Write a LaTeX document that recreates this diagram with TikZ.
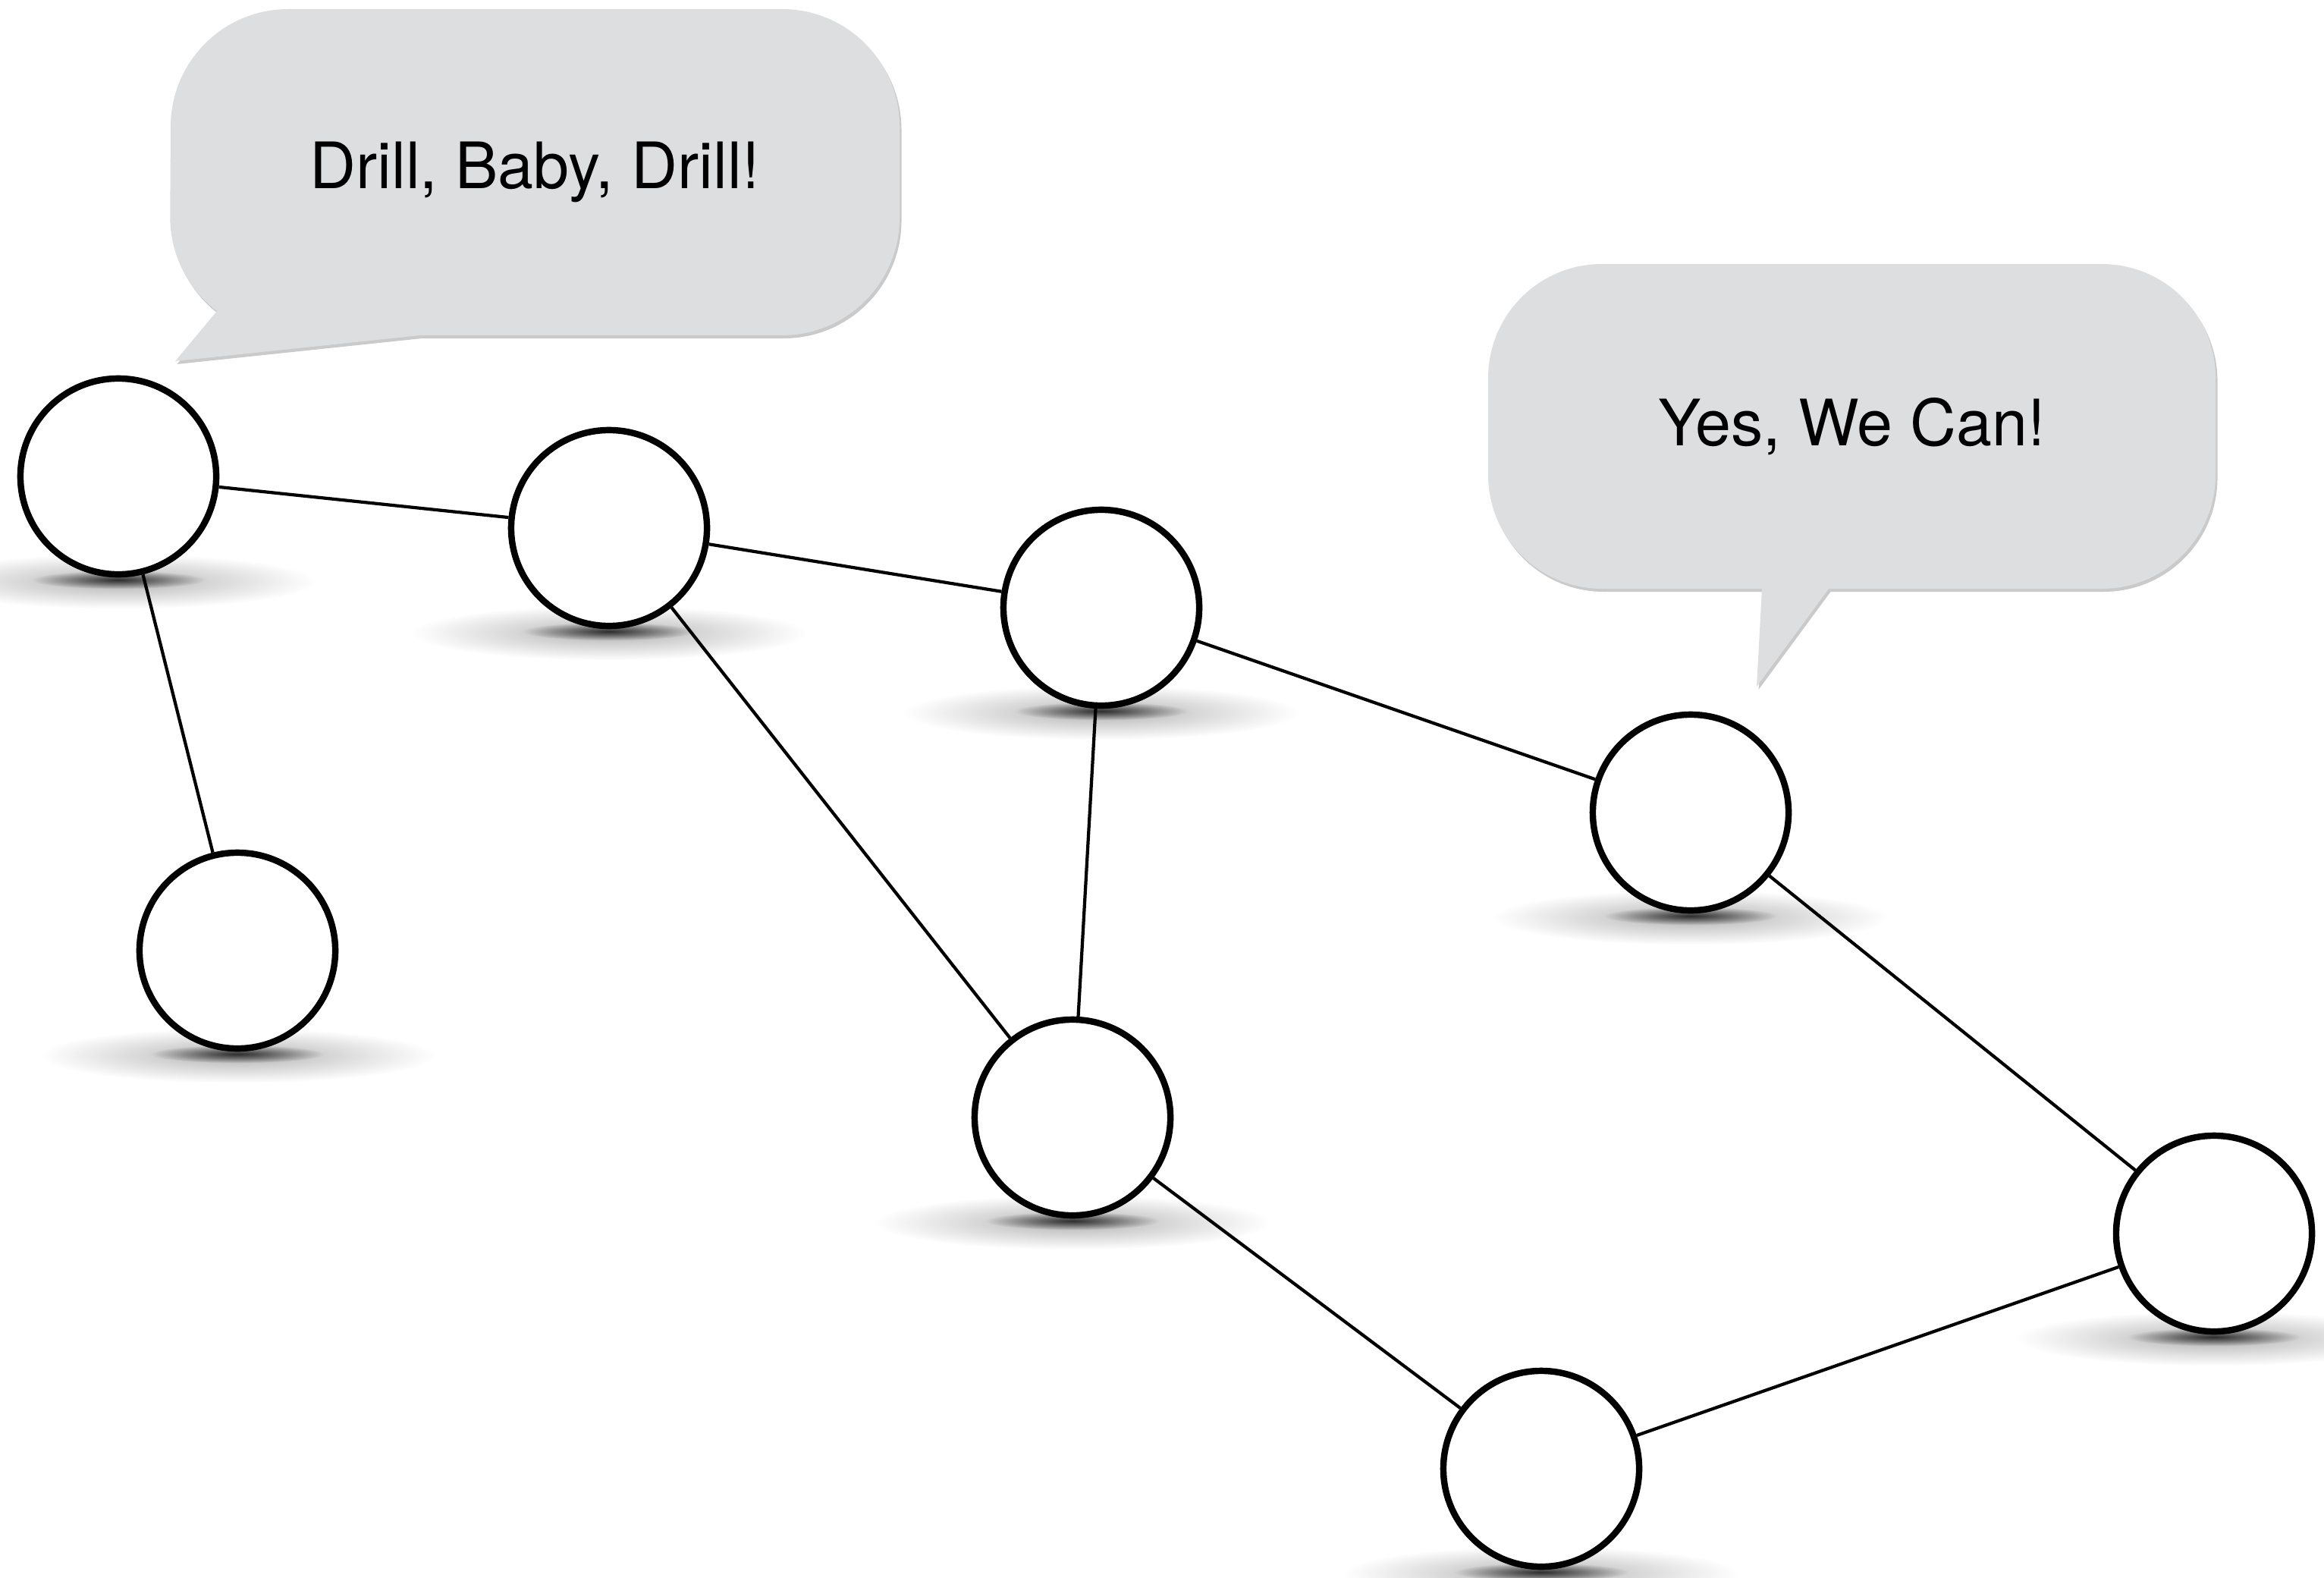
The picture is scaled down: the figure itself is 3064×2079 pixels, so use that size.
\documentclass[tikz,border=0pt]{standalone}
\usepackage{fontspec}
\setmainfont{TeX Gyre Heros}
\usetikzlibrary{fadings,shadows,backgrounds}
\definecolor{bubblegray}{RGB}{221,222,224}
\tikzfading[name=softshade, inner color=transparent!0, outer color=transparent!100]

\begin{document}
\begin{tikzpicture}[x=0.01cm, y=-0.01cm,
    vertex/.style={draw=black, circle, line width=2.4pt, fill=white, minimum size=2.58cm, inner sep=0pt},
    link/.style={line width=1.2pt},
    bubble/.style={fill=bubblegray, drop shadow={shadow xshift=0.025cm, shadow yshift=-0.04cm, opacity=0.35, fill=black!60}},
    saying/.style={font=\fontsize{24}{28}\selectfont}]
  \useasboundingbox (0,0) rectangle (3064,2079);

  % speech bubbles
  \path [bubble] (231,476) -- (286,410) arc [start angle=127, end angle=180, radius=155]
    -- (225,167) arc [start angle=180, end angle=270, radius=155]
    -- (1031,12) arc [start angle=270, end angle=360, radius=155]
    -- (1186,287) arc [start angle=0, end angle=90, radius=155]
    -- (554,442) -- cycle;
  \path [bubble] (2411,776) -- (2316,905) -- (2323,776)
    -- (2112,776) arc [start angle=90, end angle=180, radius=150]
    -- (1962,498) arc [start angle=180, end angle=270, radius=150]
    -- (2771,348) arc [start angle=270, end angle=360, radius=150]
    -- (2921,626) arc [start angle=0, end angle=90, radius=150] -- cycle;

  \node [saying, name=drill] at (705,227) {Drill, Baby, Drill!};
  \node [saying, name=yes] at (2442,562) {Yes, We Can!};

  % vertices
  \node [vertex, name=a] at (156,628) {};
  \node [vertex, name=b] at (803,696) {};
  \node [vertex, name=c] at (1452,801) {};
  \node [vertex, name=d] at (2229,1071) {};
  \node [vertex, name=e] at (313,1253) {};
  \node [vertex, name=f] at (1414,1473) {};
  \node [vertex, name=g] at (2919,1626) {};
  \node [vertex, name=h] at (2032,1936) {};

  % soft shadows under the vertices
  \begin{scope}[on background layer]
    \foreach \v in {a,b,c,d,e,f,g,h} {
      \fill [black, opacity=0.3, path fading=softshade] ([yshift=-0.05cm]\v.south) ellipse (260 and 36);
      \fill [black, opacity=0.75, path fading=softshade] ([yshift=-0.03cm]\v.south) ellipse (115 and 12);
    }
  \end{scope}

  \draw [link] (a) -- (b);
  \draw [link] (a) -- (e);
  \draw [link] (b) -- (c);
  \draw [link] (b) -- (f);
  \draw [link] (c) -- (f);
  \draw [link] (c) -- (d);
  \draw [link] (d) -- (g);
  \draw [link] (f) -- (h);
  \draw [link] (h) -- (g);
\end{tikzpicture}
\end{document}
